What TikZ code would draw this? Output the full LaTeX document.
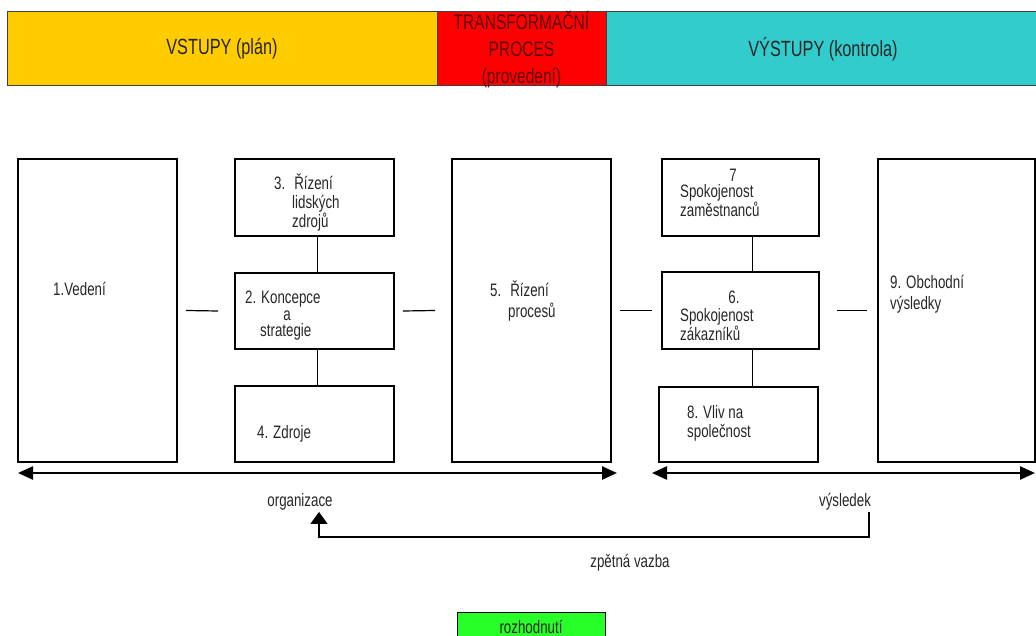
\documentclass[tikz,border=0pt]{standalone}
\usepackage{fontspec}
\setmainfont{Liberation Sans}[FakeStretch=0.74]
\usetikzlibrary{arrows.meta}

\definecolor{vstupy}{RGB}{255,204,0}
\definecolor{proces}{RGB}{255,0,0}
\definecolor{vystupy}{RGB}{51,204,204}
\definecolor{rozh}{RGB}{40,255,40}

\tikzset{
  band/.style={draw=black!75,line width=1pt,minimum height=74pt,inner sep=0pt,
    font=\fontsize{22}{27}\selectfont,align=center,text=black!85},
  box/.style={draw,line width=1.6pt,minimum width=159pt,inner sep=0pt},
  txt/.style={anchor=base west,inner sep=0pt,text=black!85,
    font=\fontsize{18}{20}\selectfont},
  dbl/.style={{Triangle[length=15pt,width=13pt]}-{Triangle[length=15pt,width=13pt]},line width=2.4pt},
  fb/.style={-{Triangle[length=12pt,width=17pt]},line width=1.8pt}
}

\begin{document}
\begin{tikzpicture}[x=1pt,y=-1pt]
\useasboundingbox (0,0) rectangle (1036,636);

% horni pas
\node[band,fill=vstupy,minimum width=430pt] (vst) at (222,49) {VSTUPY (plán)};
\node[band,fill=proces,minimum width=169pt] (tp) at (521.5,49) {};
\node[band,fill=vystupy,minimum width=434pt] (vys0) at (823,49) {VÝSTUPY (kontrola)};
\node[inner sep=0pt,align=center,text=red!35!black,
  font=\fontsize{21}{27}\selectfont] (tpt) at (521.5,50) {TRANSFORMAČNÍ\\PROCES\\(provedení)};

% bloky
\node[box,minimum height=303pt] (b1) at (97.5,310.5) {};
\node[box,minimum height=77pt] (b3) at (314.5,197.5) {};
\node[box,minimum height=76pt] (b2) at (314.5,311) {};
\node[box,minimum height=76pt] (b4) at (314.5,424) {};
\node[box,minimum height=303pt] (b5) at (531.5,310.5) {};
\node[box,minimum width=157pt,minimum height=77pt] (b7) at (740.5,197.5) {};
\node[box,minimum width=157pt,minimum height=77pt] (b6) at (740.5,310.5) {};
\node[box,minimum height=75pt] (b8) at (738.5,424.5) {};
\node[box,minimum width=157pt,minimum height=303pt] (b9) at (956.5,310.5) {};

% texty v blocich
\node[txt] at (53,296) (t1) {1.Vedení};
\node[txt] at (274,190) (t3a) {3.\enspace Řízení};
\node[txt] at (292,209) (t3b) {lidských};
\node[txt] at (292,228) (t3c) {zdrojů};
\node[txt] at (245,304) (t2a) {2. Koncepce};
\node[txt,anchor=base] at (287,320) (t2b) {a};
\node[txt] at (260,337) (t2c) {strategie};
\node[txt] at (257,438) (t4) {4. Zdroje};
\node[txt] at (490,297) (t5a) {5.\enspace Řízení};
\node[txt] at (508,317) (t5b) {procesů};
\node[txt,anchor=base] at (733,182) (t7a) {7};
\node[txt] at (680,198) (t7b) {Spokojenost};
\node[txt] at (680,217) (t7c) {zaměstnanců};
\node[txt,anchor=base] at (734,304) (t6a) {6.};
\node[txt] at (680,322) (t6b) {Spokojenost};
\node[txt] at (680,340) (t6c) {zákazníků};
\node[txt] at (687,418) (t8a) {8. Vliv na};
\node[txt] at (687,437) (t8b) {společnost};
\node[txt] at (890,289) (t9a) {9. Obchodní};
\node[txt] at (890,309) (t9b) {výsledky};

% spojnice
\draw[line width=1.2pt] ([xshift=8pt]b1.east) -- ([xshift=-16pt]b2.west);
\draw[line width=1.2pt] ([xshift=8pt]b2.east) -- ([xshift=-16pt]b5.west);
\draw[line width=1.2pt] ([xshift=8pt]b5.east) -- ([xshift=-9pt]b6.west);
\draw[line width=1.2pt] ([xshift=17pt]b6.east) -- ([xshift=-10pt]b9.west);
\draw[line width=1.2pt] ([xshift=3pt]b3.south) -- ([xshift=3pt]b2.north);
\draw[line width=1.2pt] ([xshift=3pt]b2.south) -- ([xshift=3pt]b4.north);
\draw[line width=1.2pt] ([xshift=12pt]b7.south) -- ([xshift=12pt]b6.north);
\draw[line width=1.2pt] ([xshift=12pt]b6.south) -- ([xshift=14pt]b8.north);

% sipky
\coordinate (aL) at (18,473);
\coordinate (aM) at (617,473);
\coordinate (aN) at (652,473);
\coordinate (aR) at (1035,473);
\draw[dbl] (aL) -- (aM);
\draw[dbl] (aN) -- (aR);

\node[txt,anchor=base] at (300,506) (org) {organizace};
\node[txt,anchor=base] at (845,506) (vys) {výsledek};
\draw[fb] ([xshift=24pt,yshift=-2pt]vys.south) -- ++(0,25) -| ([xshift=19pt,yshift=-2pt]org.south);
\node[txt,anchor=base] at (630,567) (zv) {zpětná vazba};

\node[draw,line width=1pt,fill=rozh,minimum width=148pt,minimum height=30pt,inner sep=0pt,
  text=black!85,font=\fontsize{18}{20}\selectfont] (roz) at (531,627) {rozhodnutí};
\end{tikzpicture}
\end{document}
